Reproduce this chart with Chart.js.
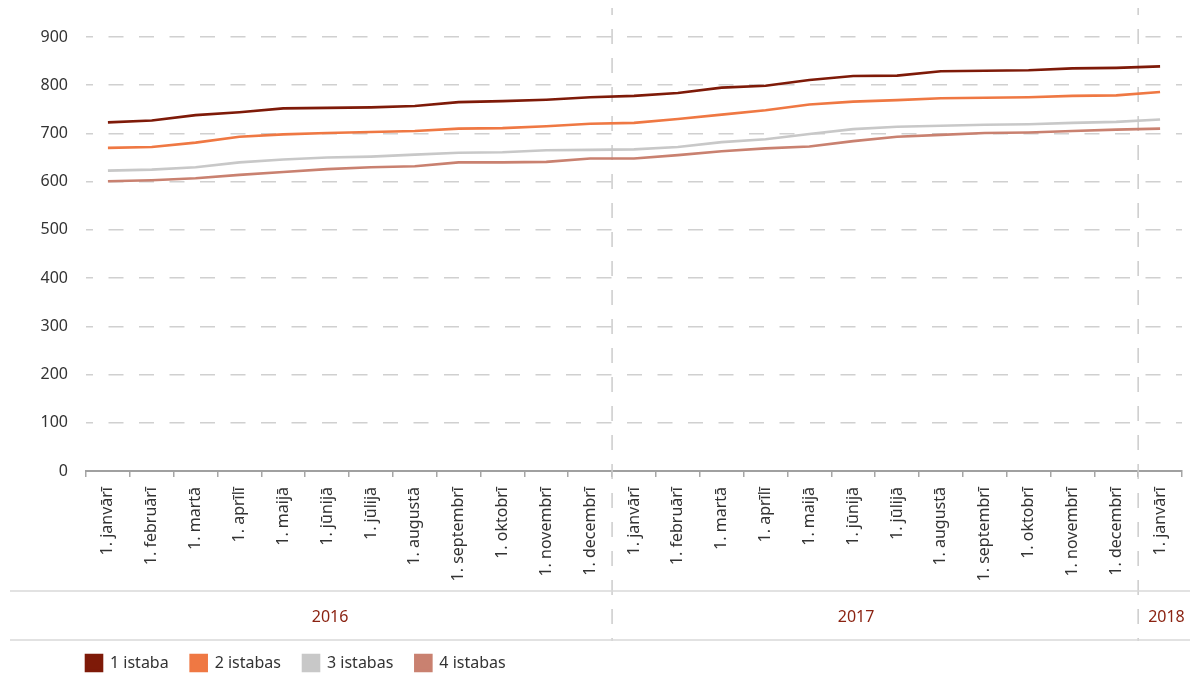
<!DOCTYPE html>
<html lang="lv">
<head>
    <meta charset="UTF-8">
    <title>Īres cenas</title>
    <script src="https://cdn.jsdelivr.net/npm/chart.js"></script>
    <style>
        body {
            margin: 0;
            padding: 0;
            background-color: #fff;
        }
        #chart-wrap {
            width: 1190px;
            height: 679px;
        }
    </style>
</head>
<body>
    <div id="chart-wrap">
        <canvas id="line-chart"></canvas>
    </div>

    <script>
        // category labels (month) and the year groups they belong to
        const months = [
            '1. janvārī', '1. februārī', '1. martā', '1. aprīlī', '1. maijā', '1. jūnijā',
            '1. jūlijā', '1. augustā', '1. septembrī', '1. oktobrī', '1. novembrī', '1. decembrī',
            '1. janvārī', '1. februārī', '1. martā', '1. aprīlī', '1. maijā', '1. jūnijā',
            '1. jūlijā', '1. augustā', '1. septembrī', '1. oktobrī', '1. novembrī', '1. decembrī',
            '1. janvārī'
        ];
        const years = ['2016', '2017', '2018'];
        const yearCounts = [12, 12, 1];

        const seriesNames = ['1 istaba', '2 istabas', '3 istabas', '4 istabas'];
        const seriesColors = ['#7e1a08', '#ef7843', '#c8c8c8', '#c98170'];

        const room1 = [723, 727, 738, 744, 752, 753, 754, 757, 765, 767, 770, 775,
                       778, 784, 795, 799, 811, 819, 820, 829, 830, 831, 835, 836, 839];
        const room2 = [670, 672, 681, 693, 698, 701, 703, 705, 710, 711, 715, 720,
                       722, 730, 739, 748, 760, 766, 769, 773, 774, 775, 778, 779, 786];
        const room3 = [623, 625, 630, 640, 646, 650, 652, 656, 660, 661, 665, 666,
                       667, 672, 682, 688, 699, 709, 714, 716, 718, 719, 722, 724, 729];
        const room4 = [601, 603, 607, 614, 620, 626, 630, 632, 640, 640, 641, 648,
                       648, 655, 663, 669, 673, 684, 693, 697, 701, 702, 705, 708, 710];

        const yTicks = [0, 100, 200, 300, 400, 500, 600, 700, 800, 900];

        const fontFamily = "'Noto Sans', 'Open Sans', sans-serif";

        // year separators and the year row under the month labels
        const yearRowPlugin = {
            id: 'yearRow',
            afterLayout(chart) {
                // start the legend under the plot instead of at the canvas edge
                if (chart.legend) {
                    chart.legend.left = 64;
                    chart.legend.top += 2;
                }
            },
            beforeDatasetsDraw(chart) {
                const ctx = chart.ctx;
                const x = chart.scales.x;
                ctx.save();
                ctx.strokeStyle = '#cccccc';
                ctx.lineWidth = 1.5;
                ctx.setLineDash([15, 14]);
                ctx.lineDashOffset = 8;
                let idx = 0;
                for (let g = 0; g < yearCounts.length - 1; g++) {
                    idx += yearCounts[g];
                    const px = (x.getPixelForValue(idx - 1) + x.getPixelForValue(idx)) / 2;
                    ctx.beginPath();
                    ctx.moveTo(px, 8);
                    ctx.lineTo(px, 641);
                    ctx.stroke();
                }
                ctx.restore();
            },
            afterDraw(chart) {
                const ctx = chart.ctx;
                const x = chart.scales.x;
                const half = (x.getPixelForValue(1) - x.getPixelForValue(0)) / 2;
                ctx.save();
                ctx.strokeStyle = '#d9d9d9';
                ctx.lineWidth = 1.5;
                [591, 640].forEach(y => {
                    ctx.beginPath();
                    ctx.moveTo(10, y);
                    ctx.lineTo(chart.width, y);
                    ctx.stroke();
                });

                ctx.font = '16px ' + fontFamily;
                ctx.fillStyle = '#8b2312';
                ctx.textBaseline = 'middle';
                ctx.textAlign = 'left';
                let idx = 0;
                years.forEach((year, g) => {
                    const start = x.getPixelForValue(idx) - half;
                    idx += yearCounts[g];
                    const end = x.getPixelForValue(idx - 1) + half;
                    const w = ctx.measureText(year).width;
                    let left = (start + end) / 2 - 19 - w / 2;
                    if (left < start + 10) left = start + 10;
                    ctx.fillText(year, left, 617);
                });
                ctx.restore();
            }
        };

        const datasets = [room1, room2, room3, room4].map((values, i) => ({
            label: seriesNames[i],
            data: values,
            borderColor: seriesColors[i],
            backgroundColor: seriesColors[i],
            borderWidth: 2.6,
            pointRadius: 0,
            pointHoverRadius: 0,
            tension: 0,
            fill: false
        }));

        new Chart(document.getElementById('line-chart'), {
            type: 'line',
            data: { labels: months, datasets: datasets },
            options: {
                responsive: true,
                maintainAspectRatio: false,
                animation: false,
                layout: {
                    padding: { top: 37, left: 0, right: 8, bottom: 0 }
                },
                plugins: {
                    tooltip: { enabled: false },
                    legend: {
                        position: 'bottom',
                        align: 'start',
                        labels: {
                            boxWidth: 16,
                            boxHeight: 16,
                            padding: 22,
                            color: '#333',
                            font: { size: 16, family: fontFamily }
                        }
                    }
                },
                scales: {
                    x: {
                        offset: true,
                        grid: {
                            offset: true,
                            drawOnChartArea: false,
                            drawTicks: true,
                            tickLength: 6,
                            color: '#a6a6a6',
                            lineWidth: 1.5
                        },
                        border: { display: true, color: '#a0a0a0', width: 2 },
                        ticks: {
                            autoSkip: false,
                            minRotation: 90,
                            maxRotation: 90,
                            padding: 10,
                            color: '#333',
                            font: { size: 16, family: fontFamily }
                        },
                        afterFit(scale) {
                            scale.height = 160;
                        }
                    },
                    y: {
                        min: 0,
                        max: 900,
                        afterBuildTicks(scale) {
                            scale.ticks = yTicks.map(v => ({ value: v }));
                        },
                        grid: {
                            drawTicks: false,
                            color: ctx => ctx.tick && ctx.tick.value === 0 ? 'rgba(0,0,0,0)' : '#d0d0d0',
                            lineWidth: 1.5
                        },
                        border: { display: false, dash: [15, 15.5], dashOffset: 8 },
                        ticks: {
                            padding: 18,
                            color: '#333',
                            font: { size: 16, family: fontFamily }
                        },
                        afterFit(scale) {
                            scale.width = 86;
                        }
                    }
                }
            },
            plugins: [yearRowPlugin]
        });
    </script>
</body>
</html>
